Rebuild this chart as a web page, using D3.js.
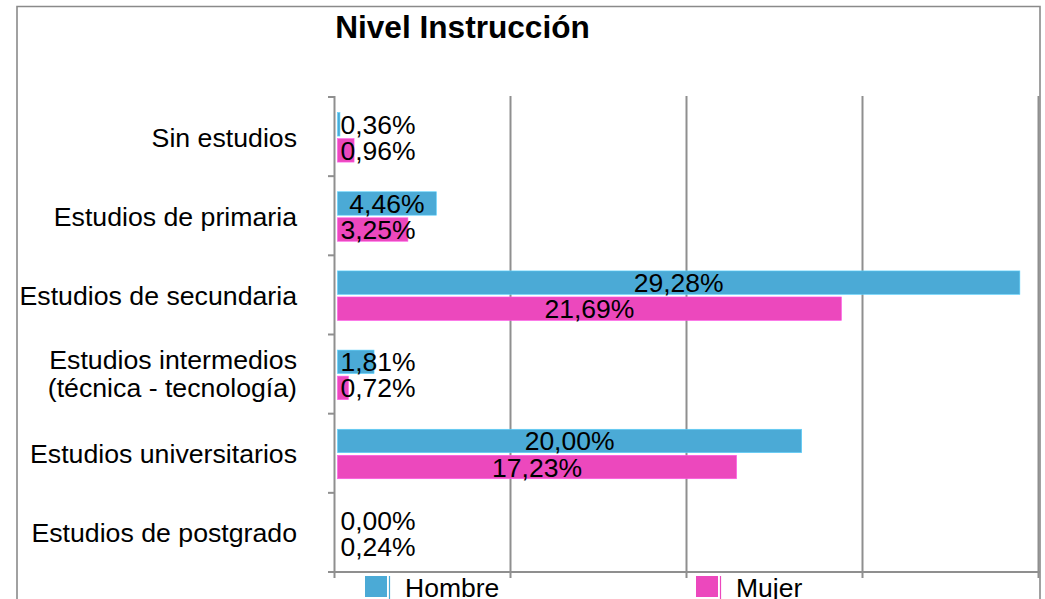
<!DOCTYPE html>
<html>
<head>
<meta charset="utf-8">
<script src="https://cdn.jsdelivr.net/npm/d3@7"></script>
<style>
  html, body { margin: 0; padding: 0; background: #fff; }
  svg { display: block; }
  text { font-family: "Liberation Sans", Arial, sans-serif; fill: #000; }
</style>
</head>
<body>
<svg id="chart" width="1045" height="599"></svg>
<script>
const title = "Nivel Instrucción";
const categories = [
  ["Sin estudios"],
  ["Estudios de primaria"],
  ["Estudios de secundaria"],
  ["Estudios intermedios", "(técnica - tecnología)"],
  ["Estudios universitarios"],
  ["Estudios de postgrado"]
];
const series = ["Hombre", "Mujer"];
const hombre = [0.36, 4.46, 29.28, 1.81, 20.00, 0.00];
const mujer  = [0.96, 3.25, 21.69, 0.72, 17.23, 0.24];
const gridTicks = [0, 7.5, 15, 22.5, 30];
const colors = ["#4BAAD6", "#EC48BD"];

const svg = d3.select("#chart");
const catKeys = categories.map(c => c.join(" "));
const values = [hombre, mujer];

// scales
const x = d3.scaleLinear().domain([0, 30]).range([334.5, 1038.5]);       // grid / axis
const xb = d3.scaleLinear().domain([0, 30]).range([331.5, 1036.8]);      // bar extents
const y = d3.scaleBand().domain(catKeys).range([97, 572]);
const inner = d3.scaleBand().domain(series).range([-24, 25.5]).paddingInner(0.1);

// frame
svg.append("rect").attr("x", 0).attr("y", 0).attr("width", 1045).attr("height", 599).attr("fill", "#fff");
svg.append("path")
  .attr("d", "M17,610 L17,6.5 L1040,6.5 L1040,610")
  .attr("fill", "none").attr("stroke", "#8a8a8a").attr("stroke-width", 1.6);

// title
svg.append("text")
  .attr("x", 462.5).attr("y", 38)
  .attr("text-anchor", "middle")
  .attr("font-size", 31.6).attr("font-weight", "bold")
  .text(title);

// gridlines
svg.append("g").selectAll("line").data(gridTicks.slice(1)).join("line")
  .attr("x1", d => x(d)).attr("x2", d => x(d))
  .attr("y1", 96).attr("y2", 578)
  .attr("stroke", "#8f8f8f").attr("stroke-width", 2);

// bars
const barG = svg.append("g");
series.forEach((s, si) => {
  barG.selectAll(null).data(values[si]).join("rect")
    .attr("x", x(0) + 3)
    .attr("y", (d, i) => y(catKeys[i]) + y.bandwidth() / 2 + inner(s))
    .attr("width", d => Math.max(0, xb(d) - (x(0) + 3)))
    .attr("height", inner.bandwidth())
    .attr("fill", colors[si])
    .attr("stroke", d3.color(colors[si]).brighter(0.6))
    .attr("stroke-width", 0.6);
});

// axes
svg.append("line").attr("x1", 334.5).attr("x2", 334.5).attr("y1", 96).attr("y2", 578)
  .attr("stroke", "#8f8f8f").attr("stroke-width", 2);
svg.append("line").attr("x1", 328).attr("x2", 1040).attr("y1", 572).attr("y2", 572)
  .attr("stroke", "#8f8f8f").attr("stroke-width", 2);
// category separator ticks
const bounds = catKeys.map(k => y(k)).concat([y.range()[1]]);
svg.append("g").selectAll("line").data(bounds).join("line")
  .attr("x1", 328).attr("x2", 335).attr("y1", d => d).attr("y2", d => d)
  .attr("stroke", "#8f8f8f").attr("stroke-width", 2);

// category labels
const catG = svg.append("g");
categories.forEach((lines, i) => {
  const c = y(catKeys[i]) + y.bandwidth() / 2;
  const lh = 28;
  const t = catG.append("text")
    .attr("text-anchor", "end")
    .attr("font-size", 26.7);
  lines.forEach((ln, li) => {
    t.append("tspan")
      .attr("x", 297)
      .attr("y", c + 10 + (li - (lines.length - 1) / 2) * lh - (lines.length > 1 ? 1 : 0))
      .text(ln);
  });
});

// value labels
const fmt = v => v.toFixed(2).replace(".", ",") + "%";
const labG = svg.append("g");
series.forEach((s, si) => {
  values[si].forEach((v, i) => {
    const cy = y(catKeys[i]) + y.bandwidth() / 2 + inner(s) + inner.bandwidth() / 2;
    const t = labG.append("text")
      .attr("font-size", 26.5)
      .attr("y", cy + 9.5)
      .text(fmt(v));
    const w = t.node().getComputedTextLength();
    const cx = (x(0) + 3 + xb(v)) / 2;
    let left = cx - w / 2;
    if (left < 338) left = 340.5;
    t.attr("x", left);
  });
});

// legend
const legX = [365, 696];
series.forEach((s, si) => {
  const g = svg.append("g");
  g.append("rect").attr("x", legX[si]).attr("y", 576).attr("width", 22).attr("height", 21)
    .attr("fill", colors[si]);
  g.append("line").attr("x1", legX[si] + 24.5).attr("x2", legX[si] + 24.5)
    .attr("y1", 576).attr("y2", 599)
    .attr("stroke", colors[si]).attr("stroke-width", 1.2);
  g.append("text").attr("x", legX[si] + 40).attr("y", 596.5)
    .attr("font-size", 26.5).text(s);
});
</script>
</body>
</html>
